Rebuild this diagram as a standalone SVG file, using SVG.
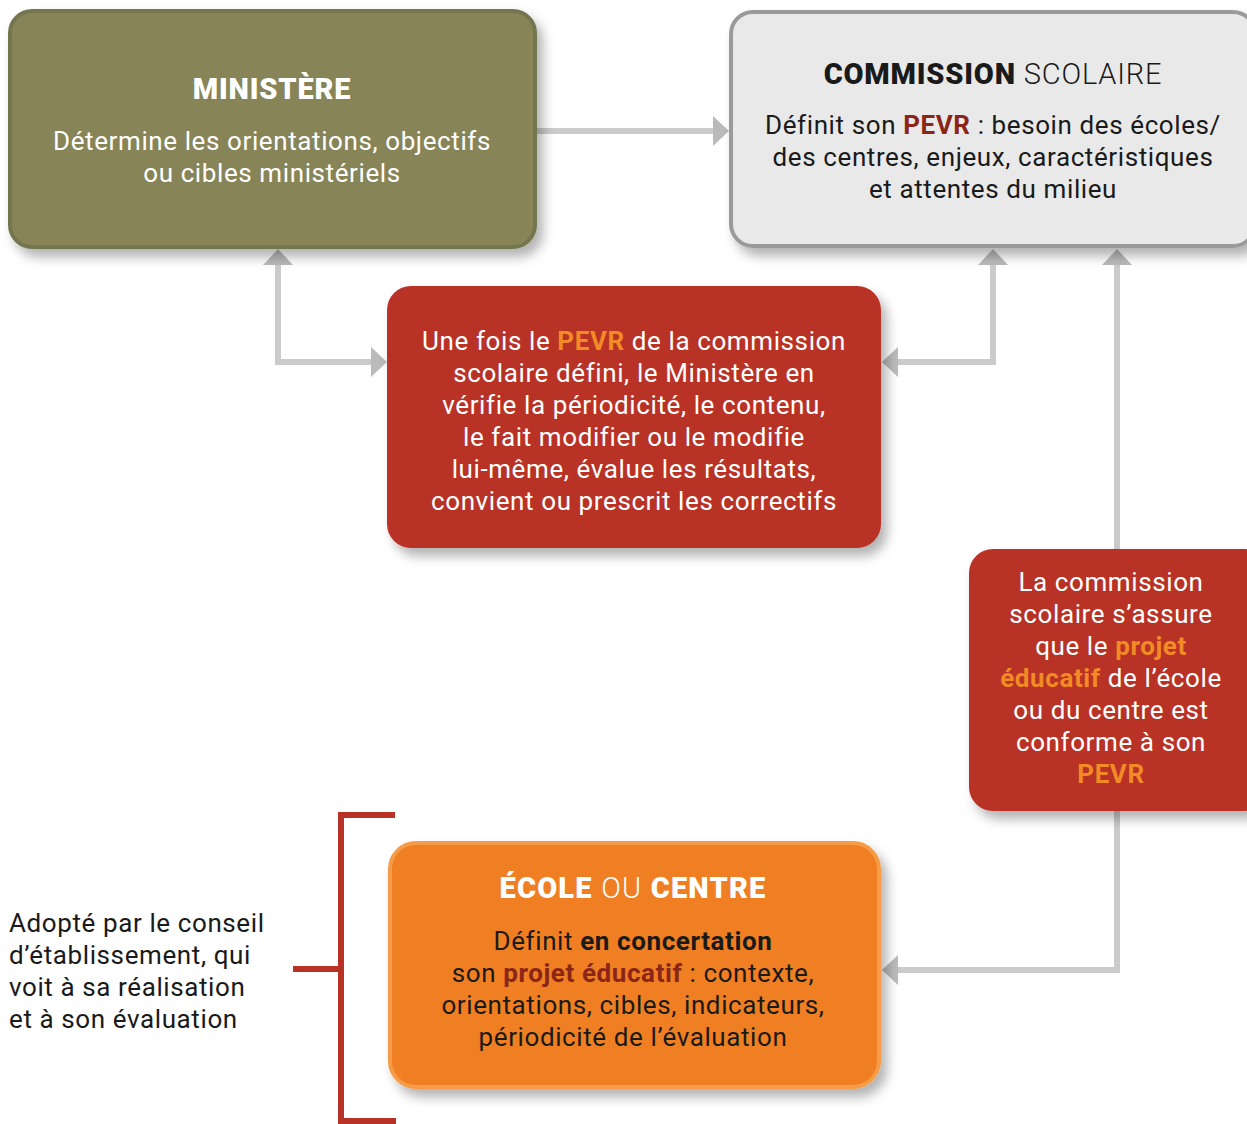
<svg xmlns="http://www.w3.org/2000/svg" width="1247" height="1124" viewBox="0 0 1247 1124">
<defs>
<filter id="sh" x="-10%" y="-10%" width="130%" height="130%">
<feDropShadow dx="6" dy="8" stdDeviation="6" flood-color="#000" flood-opacity="0.3"/>
</filter>
<marker id="ah" markerUnits="userSpaceOnUse" markerWidth="16" markerHeight="30" refX="6" refY="15" orient="auto-start-reverse" viewBox="0 0 16 30">
<path d="M0,0 L16,15 L0,30 z" fill="#b9bab9"/>
</marker>
<style>
text{font-family:Roboto,"Liberation Sans",sans-serif;text-anchor:middle}
.b{font-size:26px;letter-spacing:0.6px}
.t{font-size:29px;font-weight:900;letter-spacing:0.8px}
.l{font-weight:300}
.w{fill:#fff}
.k{fill:#1a1a1a}
.bold{font-weight:700}
.or{fill:#f28b25;font-weight:700}
.dr{fill:#8b2517;font-weight:700}
.conn{fill:none;stroke:#cacbca;stroke-width:6;marker-end:url(#ah)}
</style>
</defs>
<g id="connectors">
<path class="conn" d="M536,131 H719"/>
<path class="conn" d="M377,362 H278 V259" marker-start="url(#ah)"/>
<path class="conn" d="M892,362 H993 V259" marker-start="url(#ah)"/>
<path class="conn" d="M892,970 H1117 V259" marker-start="url(#ah)"/>
</g>
<g id="ministere">
<rect x="10" y="11" width="525" height="236" rx="22" fill="#878459" stroke="#74764f" stroke-width="4" filter="url(#sh)"/>
<text class="t w" x="272" y="99">MINISTÈRE</text>
<text class="b w" x="272" y="150">Détermine les orientations, objectifs</text>
<text class="b w" x="272" y="182">ou cibles ministériels</text>
</g>
<g id="commission">
<rect x="731" y="12" width="524" height="234" rx="22" fill="#e9e9e9" stroke="#9a9a9a" stroke-width="4" filter="url(#sh)"/>
<text class="t k" x="993" y="84">COMMISSION <tspan class="l">SCOLAIRE</tspan></text>
<text class="b k" x="993" y="134">Définit son <tspan class="dr">PEVR</tspan> : besoin des écoles/</text>
<text class="b k" x="993" y="166">des centres, enjeux, caractéristiques</text>
<text class="b k" x="993" y="198">et attentes du milieu</text>
</g>
<g id="verification">
<rect x="387" y="286" width="494" height="262" rx="24" fill="#b93228" filter="url(#sh)"/>
<text class="b w" x="634" y="350">Une fois le <tspan class="or">PEVR</tspan> de la commission</text>
<text class="b w" x="634" y="382">scolaire défini, le Ministère en</text>
<text class="b w" x="634" y="414">vérifie la périodicité, le contenu,</text>
<text class="b w" x="634" y="446">le fait modifier ou le modifie</text>
<text class="b w" x="634" y="478">lui-même, évalue les résultats,</text>
<text class="b w" x="634" y="510">convient ou prescrit les correctifs</text>
</g>
<g id="conformite">
<rect x="969" y="549" width="300" height="262" rx="24" fill="#b93228" filter="url(#sh)"/>
<text class="b w" x="1111" y="591">La commission</text>
<text class="b w" x="1111" y="623">scolaire s’assure</text>
<text class="b w" x="1111" y="655">que le <tspan class="or">projet</tspan></text>
<text class="b w" x="1111" y="687"><tspan class="or">éducatif</tspan> de l’école</text>
<text class="b w" x="1111" y="719">ou du centre est</text>
<text class="b w" x="1111" y="751">conforme à son</text>
<text class="b w" x="1111" y="783"><tspan class="or">PEVR</tspan></text>
</g>
<g id="ecole">
<rect x="390" y="843" width="489" height="244" rx="26" fill="#ef7f22" stroke="#f69c48" stroke-width="4" filter="url(#sh)"/>
<text class="t w" x="633" y="898" style="letter-spacing:1.2px">ÉCOLE <tspan class="l">OU</tspan> CENTRE</text>
<text class="b k" x="633" y="950">Définit <tspan class="bold">en concertation</tspan></text>
<text class="b k" x="633" y="982">son <tspan class="dr">projet éducatif</tspan> : contexte,</text>
<text class="b k" x="633" y="1014">orientations, cibles, indicateurs,</text>
<text class="b k" x="633" y="1046">périodicité de l’évaluation</text>
</g>
<g id="adoption">
<path d="M395,815 H341 V1121 H396 M293,969 H341" fill="none" stroke="#b93228" stroke-width="6"/>
<text class="b k" x="9" y="932" style="text-anchor:start">Adopté par le conseil</text>
<text class="b k" x="9" y="964" style="text-anchor:start">d’établissement, qui</text>
<text class="b k" x="9" y="996" style="text-anchor:start">voit à sa réalisation</text>
<text class="b k" x="9" y="1028" style="text-anchor:start">et à son évaluation</text>
</g>
</svg>
